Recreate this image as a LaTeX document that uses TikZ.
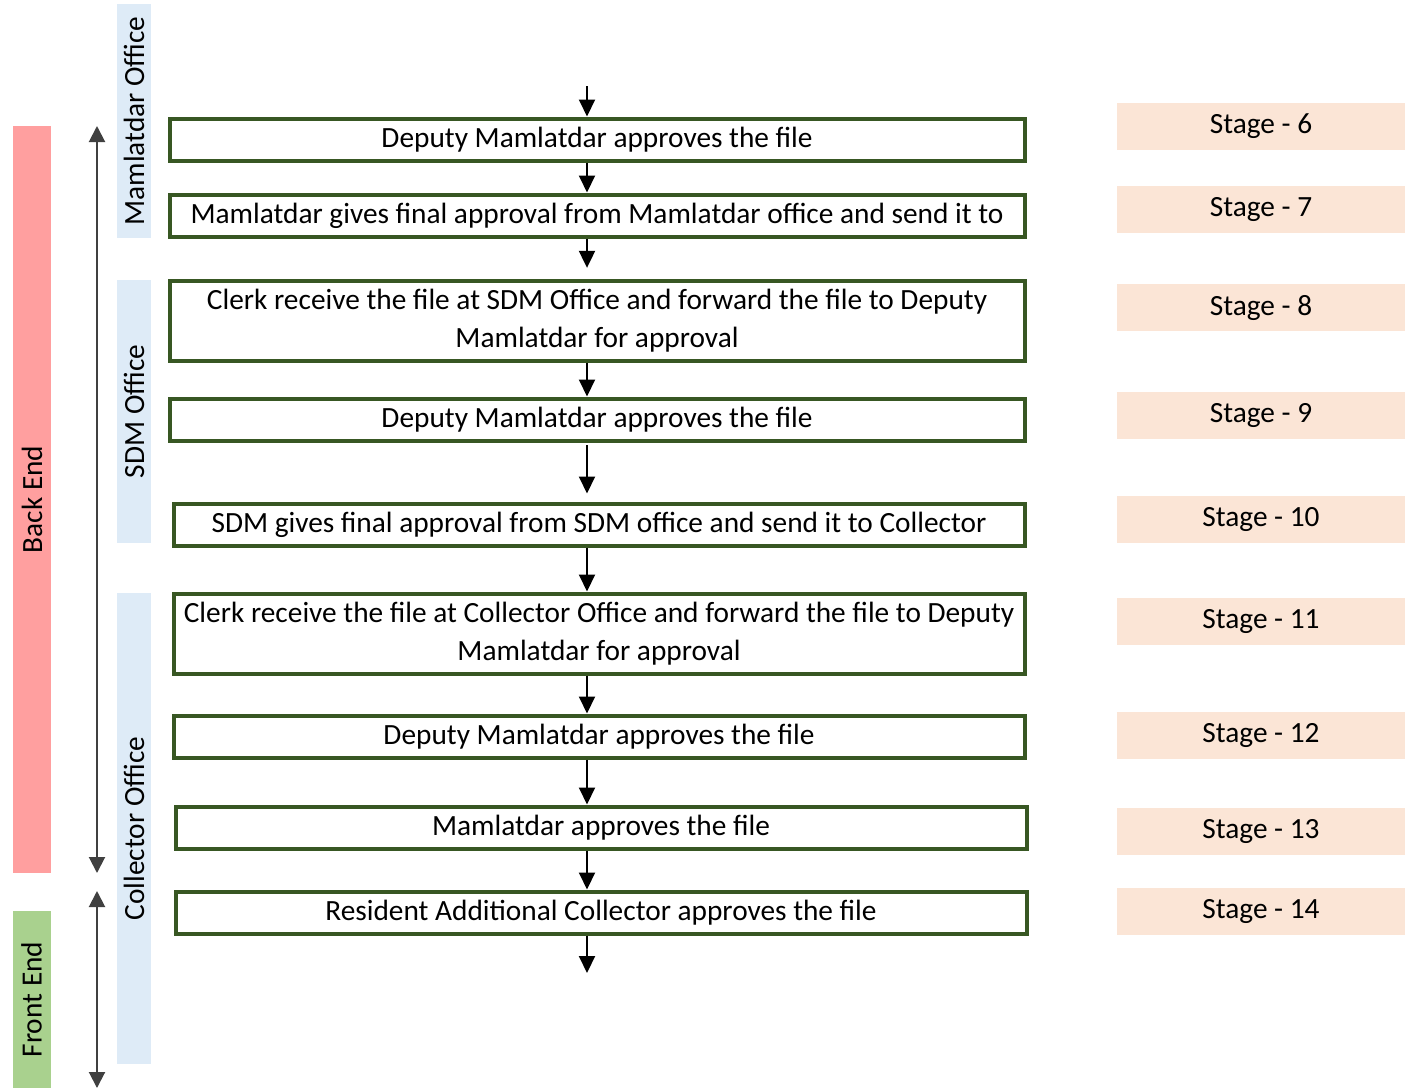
\documentclass[tikz,border=0pt]{standalone}
\usepackage{fontspec}
\setmainfont{Carlito}
\usetikzlibrary{arrows.meta}
\newdimen\pxu \pxu=0.75pt
\definecolor{backred}{RGB}{255,159,159}
\definecolor{frontgreen}{RGB}{169,209,142}
\definecolor{bandblue}{RGB}{222,235,247}
\definecolor{stagepeach}{RGB}{251,229,214}
\definecolor{boxgreen}{RGB}{56,87,35}
\tikzset{
  stepbox/.style={draw=boxgreen,line width=4\pxu,fill=white,align=center,inner sep=0pt},
  stagebox/.style={fill=stagepeach,minimum width=288\pxu,minimum height=47\pxu,inner sep=0pt},
  officeband/.style={fill=bandblue,rotate=90,minimum height=34\pxu,inner sep=0pt},
  endband/.style={rotate=90,minimum height=38\pxu,inner sep=0pt},
  flow/.style={line width=1.5pt,-{Triangle[width=12pt,length=12.75pt]}},
  spanarrow/.style={line width=1.5pt,draw=black!75,
    {Triangle[width=12pt,length=12pt]}-{Triangle[width=12pt,length=12pt]}}
}

\begin{document}
\begin{tikzpicture}[x=\pxu,y=-\pxu,every node/.style={font=\fontsize{22}{28.5}\selectfont}]
  \useasboundingbox (0,0) rectangle (1405,1088);

  % Back end / front end bars
  \node[endband,fill=backred,minimum width=747\pxu] (backend) at (32,499.5) {Back End};
  \node[endband,fill=frontgreen,minimum width=177\pxu] (frontend) at (31.5,999.5) {Front End};

  % Span arrows
  \coordinate (be-top) at (97,126);
  \coordinate (be-bot) at (97,873);
  \coordinate (fe-top) at (97,891);
  \coordinate (fe-bot) at (97,1088);
  \draw[spanarrow] (be-top) -- (be-bot);
  \draw[spanarrow] (fe-top) -- (fe-bot);

  % Office bands
  \node[officeband,minimum width=234\pxu] (mamoffice) at (134,121) {Mamlatdar Office};
  \node[officeband,minimum width=263\pxu] (sdmoffice) at (134,411.5) {SDM Office};
  \node[officeband,minimum width=471\pxu] (coloffice) at (134,828.5) {Collector Office};

  % Process steps
  \node[stepbox,minimum width=855\pxu,minimum height=42\pxu] (b1) at (597,139.5)
    {Deputy Mamlatdar approves the file};
  \node[stepbox,minimum width=855\pxu,minimum height=42\pxu] (b2) at (597,215.5)
    {Mamlatdar gives final approval from Mamlatdar office and send it to};
  \node[stepbox,minimum width=855\pxu,minimum height=80\pxu] (b3) at (597,320.5)
    {Clerk receive the file at SDM Office and forward the file to Deputy\\Mamlatdar for approval};
  \node[stepbox,minimum width=855\pxu,minimum height=42\pxu] (b4) at (597,419.5)
    {Deputy Mamlatdar approves the file};
  \node[stepbox,minimum width=851\pxu,minimum height=42\pxu] (b5) at (599,524.5)
    {SDM gives final approval from SDM office and send it to Collector};
  \node[stepbox,minimum width=851\pxu,minimum height=80\pxu] (b6) at (599,633.5)
    {Clerk receive the file at Collector Office and forward the file to Deputy\\Mamlatdar for approval};
  \node[stepbox,minimum width=851\pxu,minimum height=42\pxu] (b7) at (599,736.5)
    {Deputy Mamlatdar approves the file};
  \node[stepbox,minimum width=851\pxu,minimum height=42\pxu] (b8) at (601,827.5)
    {Mamlatdar approves the file};
  \node[stepbox,minimum width=851\pxu,minimum height=42\pxu] (b9) at (601,912.5)
    {Resident Additional Collector approves the file};

  % Flow arrows
  \coordinate (ax) at (587,0);
  \coordinate (in) at (587,86);
  \coordinate (out) at (587,973);
  \draw[flow] (in) -- (b1.north -| ax);
  \draw[flow] (b1.south -| ax) -- (b2.north -| ax);
  \draw[flow,shorten >=8pt] (b2.south -| ax) -- (b3.north -| ax);
  \draw[flow] (b3.south -| ax) -- (b4.north -| ax);
  \draw[flow,shorten <=2pt,shorten >=6pt] (b4.south -| ax) -- (b5.north -| ax);
  \draw[flow] (b5.south -| ax) -- (b6.north -| ax);
  \draw[flow] (b6.south -| ax) -- (b7.north -| ax);
  \draw[flow] (b7.south -| ax) -- (b8.north -| ax);
  \draw[flow] (b8.south -| ax) -- (b9.north -| ax);
  \draw[flow] (b9.south -| ax) -- (out);

  % Stages
  \node[stagebox] (s6) at (1261,126.5) {Stage - 6};
  \node[stagebox] (s7) at (1261,209.5) {Stage - 7};
  \node[stagebox] (s8) at (1261,307.5) {Stage - 8};
  \node[stagebox] (s9) at (1261,415.5) {Stage - 9};
  \node[stagebox] (s10) at (1261,519.5) {Stage - 10};
  \node[stagebox] (s11) at (1261,621.5) {Stage - 11};
  \node[stagebox] (s12) at (1261,735.5) {Stage - 12};
  \node[stagebox] (s13) at (1261,831.5) {Stage - 13};
  \node[stagebox] (s14) at (1261,911.5) {Stage - 14};
\end{tikzpicture}
\end{document}
